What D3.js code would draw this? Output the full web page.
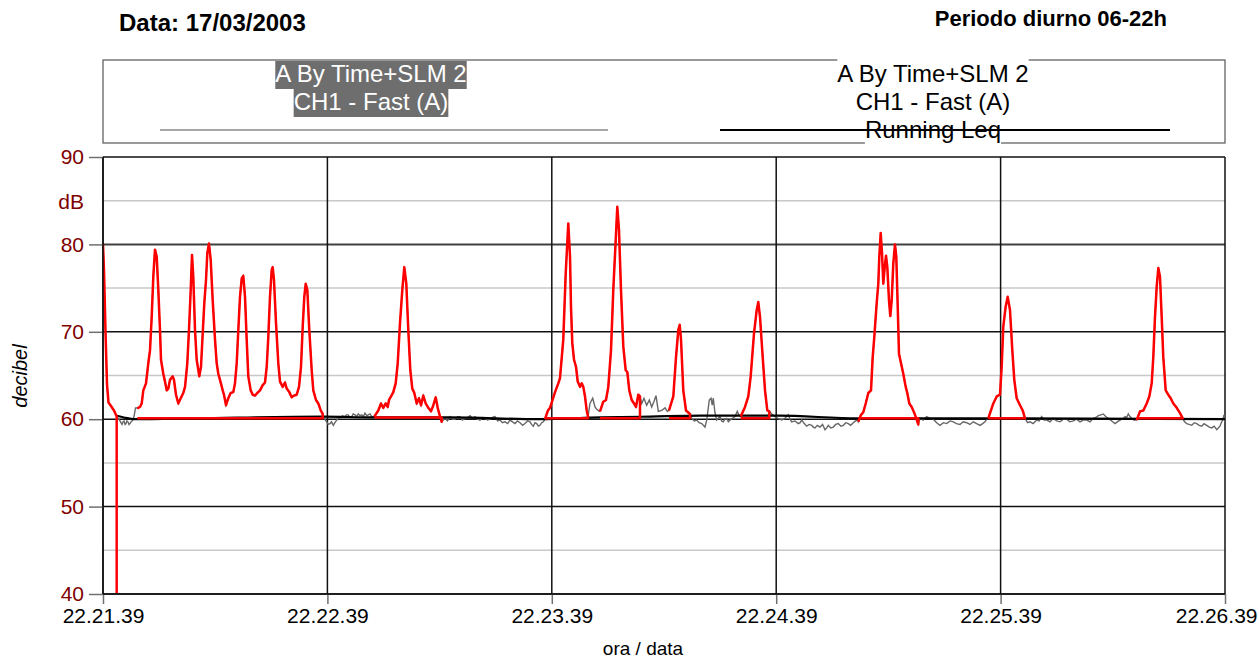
<!DOCTYPE html>
<html><head><meta charset="utf-8">
<script src="https://cdn.jsdelivr.net/npm/d3@7"></script>
<style>
body{margin:0;background:#fff;}
svg{display:block;font-family:"Liberation Sans",Arial,sans-serif;}
</style></head>
<body><svg id="c" width="1259" height="659"></svg>
<script>
// ---- DATA (time in seconds after 22.21.39, level in dB) ----
const timeTicks = [0, 60, 120, 180, 240, 300];
const timeLabels = ["22.21.39","22.22.39","22.23.39","22.24.39","22.25.39","22.26.39"];
const dbMajor = [40, 50, 60, 70, 80, 90];
const dbMinor = [45, 55, 65, 75, 85];

// Fast (A) level between the marked events (grey trace)
const fastBackground = [
 [3.74,60.2],[4.2,60.0],[4.55,59.8],[4.8,59.6],[5.08,59.4],[5.35,59.7],[5.61,59.8],[5.9,59.4],[6.15,59.5],[6.4,59.8],[6.68,59.7],[6.95,59.4],[7.22,59.5],[7.5,59.7],[7.75,59.8],[8.0,60.0],[8.29,60.3],[8.69,61.3],[9.09,61.3],
 [58.82,60.3],[59.3,60.0],[59.81,59.7],[60.2,59.4],[60.7,59.5],[61.1,59.7],[61.58,59.3],[62.0,59.6],[62.49,59.9],[63.0,60.2],[63.37,60.1],[64.0,60.4],[64.71,60.3],[65.1,60.5],[65.59,60.5],[66.0,60.2],[66.5,60.3],[66.9,60.6],[67.38,60.5],[67.8,60.3],[68.26,60.6],[68.7,60.4],[69.17,60.5],[69.6,60.3],[70.05,60.7],[70.5,60.4],[70.94,60.5],[71.4,60.6],[71.84,60.3],
 [90.99,59.9],[91.44,60.1],[92.1,59.8],[92.78,60.3],[93.4,60.0],[94.12,60.0],[94.8,60.3],[95.45,60.3],[96.1,59.9],[96.79,60.1],[97.5,60.2],[98.13,60.4],[98.8,60.1],[99.47,60.3],[100.1,60.0],[100.8,59.9],[101.5,60.2],[102.14,60.1],[102.8,59.9],[103.48,60.0],[104.1,60.2],[104.81,60.3],[105.5,59.8],[106.15,59.9],[106.8,59.6],[107.49,59.7],[108.2,59.5],[108.82,59.9],[109.5,59.7],[110.16,59.5],[110.8,59.8],[111.5,59.6],[112.2,59.3],[112.83,59.5],[113.5,59.8],[114.17,59.7],[114.6,59.4],[115.05,59.2],[115.5,59.6],[115.96,59.5],[116.4,59.2],[116.84,59.3],[117.3,59.6],[117.73,59.7],
 [130.21,61.8],[130.94,62.4],[131.55,61.4],[132.1,61.1],[132.7,60.9],
 [144.04,61.8],[144.65,62.4],[145.37,61.6],[146.07,62.2],[146.71,61.4],[147.3,62.0],[147.86,62.7],[148.48,60.9],[149.39,61.0],[150.27,61.3],[150.88,60.9],
 [157.41,60.1],[158.1,59.8],[158.74,59.9],[159.4,59.6],[160.08,59.5],[160.96,59.1],[161.42,59.9],[162.11,62.2],[162.57,62.4],[162.9,61.6],[163.18,62.4],[163.6,60.8],[164.09,59.9],[164.5,60.1],[164.97,60.3],[165.4,59.8],[165.86,59.7],[166.3,60.0],[166.76,60.1],[167.2,59.7],[167.65,59.9],[168.3,60.1],[168.98,60.3],[169.6,60.9],[170.0,60.5],
 [178.8,60.6],[179.68,60.3],[180.5,60.1],[181.47,59.9],[182.3,60.1],[183.24,60.5],[183.7,60.0],[184.14,59.7],[185.0,59.8],[185.91,59.5],[186.4,59.6],[186.82,59.9],[187.5,59.5],[188.16,59.2],[188.8,59.4],[189.5,59.3],[189.9,59.1],[190.37,59.0],[191.0,59.3],[191.71,59.1],[192.4,59.4],[193.05,58.8],[193.5,59.0],[193.93,59.3],[194.6,59.0],[195.27,59.1],[195.9,59.4],[196.6,59.5],[197.3,59.2],[197.94,59.3],[198.6,59.6],[199.28,59.5],[199.9,59.3],[200.61,59.6],[201.2,59.8],[201.79,59.9],
 [218.45,60.1],[219.3,59.9],[220.24,60.3],[221.1,60.1],[222.01,60.0],[222.9,59.6],[223.8,59.3],[224.7,59.6],[225.59,59.5],[226.5,59.8],[227.35,59.7],[228.2,59.5],[229.14,59.4],[230.0,59.7],[230.94,59.6],[231.8,59.4],[232.7,59.7],[233.6,59.5],[234.49,59.3],[235.2,59.5],[235.83,59.7],[236.3,60.0],
 [247.2,59.6],[247.86,59.7],[248.7,59.5],[249.65,59.9],[250.3,59.8],[250.99,60.3],[251.6,59.9],[252.33,59.9],[253.2,59.7],[254.09,60.1],[255.0,59.8],[255.88,59.7],[256.8,60.0],[257.67,60.0],[258.5,59.7],[259.44,59.8],[260.3,60.0],[261.23,59.7],[262.1,59.9],[263.02,59.9],[263.9,59.7],[264.79,60.1],[265.5,60.2],[266.13,60.4],[266.8,60.5],[267.46,60.6],[268.1,60.3],[268.8,60.1],[269.7,59.8],[270.59,59.5],[271.2,59.7],[271.93,59.9],[272.6,60.0],[273.26,60.3],[273.7,60.2],[274.14,60.6],[274.6,60.3],[275.05,60.1],[275.6,59.9],
 [289.2,59.7],[289.76,59.5],[290.4,59.4],[291.1,59.3],[291.8,59.6],[292.43,59.5],[293.1,59.3],[293.77,59.2],[294.4,59.5],[295.11,59.3],[295.8,59.1],[296.44,59.0],[297.1,59.2],[297.78,58.8],[298.2,59.0],[298.66,59.2],[299.0,59.6],[299.39,59.9],[299.73,60.5],[300.0,59.6]
];

// Marked events (red)
const event1 = [[0,80.0],[0.27,77.0],[0.67,70.0],[1.07,64.0],[1.47,61.9],[2.14,61.5],[2.94,61.0],[3.66,60.3]];
const event2 = [[9.17,61.25],[9.89,61.4],[10.35,61.8],[10.78,63.3],[11.5,64.1],[12.11,66.4],[12.57,67.9],[13.02,71.7],[13.45,76.3],[13.9,79.4],[14.36,78.6],[14.79,74.8],[15.24,70.2],[15.51,66.8],[16.12,65.2],[16.58,64.3],[17.03,63.3],[17.46,63.5],[17.91,64.5],[18.64,64.9],[18.98,64.5],[19.52,62.8],[20.13,61.8],[20.78,62.4],[21.47,63.0],[21.93,63.7],[22.54,66.4],[22.99,70.2],[23.45,74.8],[23.8,78.8],[24.14,76.3],[24.6,70.2],[25.05,66.8],[25.75,64.9],[26.2,66.0],[26.66,69.8],[27.09,73.3],[27.54,75.9],[27.89,79.0],[28.34,80.1],[28.8,78.2],[29.33,73.6],[29.95,69.1],[30.4,66.4],[30.83,65.2],[31.28,64.5],[32.01,63.3],[32.35,62.8],[32.89,61.6],[33.5,62.4],[34.14,63.0],[34.84,63.1],[35.29,64.1],[35.75,66.4],[36.18,70.2],[36.63,74.0],[37.09,76.1],[37.51,76.4],[37.97,74.0],[38.42,69.1],[38.85,64.9],[39.49,63.3],[40.03,62.8],[40.64,62.7],[41.26,63.0],[41.98,63.3],[42.7,63.9],[43.32,64.2],[43.77,66.0],[44.2,69.4],[44.65,74.0],[45.11,77.1],[45.37,77.4],[45.72,75.9],[46.26,71.0],[46.87,66.4],[47.33,64.3],[48.05,63.7],[48.66,64.2],[49.12,63.5],[49.81,63.1],[50.45,62.5],[51.07,62.7],[51.79,62.8],[52.41,63.7],[52.94,66.0],[53.4,70.6],[53.82,74.0],[54.2,75.5],[54.63,74.8],[55.16,70.2],[55.8,65.6],[56.23,63.3],[56.95,62.2],[57.57,61.8],[58.21,61.0],[58.74,60.6]];
const event3 = [[72.54,60.3],[73.61,61.0],[74.33,61.8],[74.95,61.3],[75.59,61.8],[76.12,61.4],[76.47,62.2],[77.01,62.6],[77.62,63.1],[78.26,64.1],[78.8,66.4],[79.41,71.0],[80.03,74.8],[80.56,77.4],[81.1,75.5],[81.63,70.2],[82.17,65.6],[82.7,63.5],[83.24,63.0],[83.88,61.8],[84.49,62.4],[85.03,61.6],[85.64,62.7],[86.28,61.8],[86.98,61.3],[87.7,60.9],[88.32,61.6],[88.96,62.5],[89.49,61.3],[90.11,60.3],[90.56,59.7]];
const event4 = [[118.18,60.0],[118.98,61.0],[119.52,61.3],[120.86,63.1],[121.74,64.1],[122.19,64.7],[123.07,69.1],[123.72,76.7],[124.41,82.4],[124.87,78.6],[125.13,72.9],[125.48,68.7],[125.94,66.8],[126.47,66.0],[126.93,64.3],[127.54,63.7],[128.0,64.1],[128.42,63.7],[128.88,62.6],[129.33,61.0],[129.68,60.3]];
const event5 = [[132.89,60.9],[133.77,62.0],[134.49,62.2],[135.11,63.7],[135.83,67.9],[136.44,74.8],[137.09,80.5],[137.51,84.3],[137.97,81.6],[138.5,74.8],[139.12,68.3],[139.76,65.6],[140.19,65.4],[140.72,63.3],[141.36,62.2],[141.98,61.8],[142.51,61.4],[143.13,62.8],[143.58,62.6]];
const event6 = [[151.34,61.0],[152.49,62.6],[153.21,67.1],[153.82,70.2],[154.2,70.8],[154.55,69.1],[155.16,63.3],[155.88,61.0],[156.95,60.6]];
const event7 = [[170.51,60.3],[171.66,61.4],[172.54,62.6],[173.18,64.9],[174.06,69.8],[174.79,72.5],[175.21,73.4],[175.67,71.7],[176.39,67.1],[177.01,63.3],[177.62,61.0],[178.16,60.9]];
const event8 = [[201.95,59.7],[202.67,60.5],[203.29,60.8],[203.93,61.8],[204.63,63.0],[205.35,63.3],[205.8,67.1],[206.23,69.4],[206.87,73.3],[207.3,75.5],[207.57,78.6],[207.94,81.3],[208.29,79.0],[208.64,75.5],[209.01,77.4],[209.36,78.7],[209.71,77.4],[210.16,73.6],[210.51,71.8],[210.88,73.6],[211.31,77.8],[211.76,80.0],[212.11,78.6],[212.49,72.9],[212.83,67.5],[213.37,66.4],[213.98,65.2],[214.63,63.7],[215.05,63.0],[215.59,61.8],[216.23,61.4],[216.93,60.7],[217.46,60.1],[217.99,59.4]];
const event9 = [[236.71,60.1],[238.05,61.8],[238.96,62.6],[239.84,62.8],[240.29,66.0],[240.72,70.6],[241.36,72.9],[241.9,74.0],[242.51,72.5],[243.13,67.9],[243.66,64.5],[244.3,62.4],[245.19,61.6],[245.91,61.0],[246.52,60.1]];
const event10 = [[276.39,59.9],[277.27,60.9],[278.16,61.0],[279.06,61.8],[279.76,62.6],[280.4,64.1],[280.83,67.1],[281.28,71.7],[281.74,75.2],[282.17,77.3],[282.62,76.3],[283.07,71.7],[283.5,67.1],[284.14,63.3],[284.83,62.8],[285.48,62.4],[286.18,61.8],[287.09,61.3],[287.97,60.7],[288.69,60.1]];
const eventBase = [39, 60.1, 60.2, 60.1, 60.1, 60.1, 60.1, 60.1, 60.1, 60.1];

// Running Leq (black)
const runningLeq = [[3.7,60.4],[5.6,60.2],[8.6,60.0],[25,60.1],[58.8,60.3],[72.5,60.2],[92.8,60.2],[116.8,60.0],[132.9,60.2],[146.3,60.3],[159.7,60.4],[180.5,60.4],[201.9,60.1],[240,60.1],[300,60.0]];

// ---- DRAW ----
const svg = d3.select("#c");
const L = 103, R = 1225, T = 157, B = 594;
const x = d3.scaleLinear().domain([0, 300]).range([L, R]);
const y = d3.scaleLinear().domain([40, 90]).range([B, T]);
const font = '"Liberation Sans",Arial,sans-serif';

// titles
svg.append("text").attr("x", 119).attr("y", 31).attr("font-size", 24).attr("font-weight", "bold").text("Data: 17/03/2003");
svg.append("text").attr("x", 1167).attr("y", 26).attr("text-anchor", "end").attr("font-size", 22).attr("font-weight", "bold").text("Periodo diurno 06-22h");

// grid
const g = svg.append("g");
g.selectAll("line.minor").data(dbMinor).join("line")
  .attr("x1", L).attr("x2", R).attr("y1", d => y(d)).attr("y2", d => y(d))
  .attr("stroke", "#c8c8c8").attr("stroke-width", 1.5);
g.selectAll("line.major").data(dbMajor).join("line")
  .attr("x1", L).attr("x2", R).attr("y1", d => y(d)).attr("y2", d => y(d))
  .attr("stroke", d => d === 80 ? "#404040" : "#111").attr("stroke-width", d => d === 80 ? 2 : 1.5);
g.selectAll("line.vert").data(timeTicks).join("line")
  .attr("x1", d => x(d)).attr("x2", d => x(d)).attr("y1", T).attr("y2", B)
  .attr("stroke", "#111").attr("stroke-width", 1.5);

// axes with D3 (ticks + labels)
const yAxis = d3.axisLeft(y).tickValues(dbMajor).tickSize(14).tickPadding(5);
const ya = svg.append("g").attr("transform", `translate(${L},0)`).call(yAxis);
ya.select(".domain").remove();
ya.selectAll(".tick line").attr("stroke", "#707070").attr("stroke-width", 1.5);
ya.selectAll(".tick text").attr("font-size", 21).attr("font-family", font).attr("fill", "#800000");

const xAxis = d3.axisBottom(x).tickValues(timeTicks).tickFormat((d, i) => timeLabels[i]).tickSize(10).tickPadding(4);
const xa = svg.append("g").attr("transform", `translate(0,${B})`).call(xAxis);
xa.select(".domain").remove();
xa.selectAll(".tick line").attr("stroke", "#707070").attr("stroke-width", 1.5);
xa.selectAll(".tick text").attr("font-size", 21).attr("font-family", font).attr("fill", "#000");
// keep the last label inside the picture, as in the reference
xa.selectAll(".tick text").filter((d, i) => i === timeTicks.length - 1)
  .attr("text-anchor", "end").attr("x", 1257 - x(300));

svg.append("text").attr("x", 84).attr("y", 209).attr("text-anchor", "end").attr("font-size", 21).attr("fill", "#800000").text("dB");
svg.append("text").attr("transform", "translate(27,376) rotate(-90)").attr("text-anchor", "middle")
  .attr("font-size", 20).attr("font-style", "italic").text("decibel");
svg.append("text").attr("x", 643).attr("y", 655).attr("text-anchor", "middle").attr("font-size", 19).text("ora / data");

// clip
svg.append("clipPath").attr("id", "clip").append("rect").attr("x", L).attr("y", T).attr("width", R - L).attr("height", B - T - 1);
const plot = svg.append("g").attr("clip-path", "url(#clip)");

const events = [event1, event2, event3, event4, event5, event6, event7, event8, event9, event10];
const fastAll = fastBackground.concat(...events).sort((a, b) => a[0] - b[0]);
const line = d3.line().x(d => x(d[0])).y(d => y(d[1]));

plot.append("path").attr("d", line(fastAll)).attr("fill", "none").attr("stroke", "#666").attr("stroke-width", 1.4);
plot.append("path").attr("d", d3.line().x(d => x(d[0])).y(d => y(d[1])).curve(d3.curveMonotoneX)(runningLeq))
  .attr("fill", "none").attr("stroke", "#000").attr("stroke-width", 2.2);
events.forEach((ev, i) => {
  const base = eventBase[i];
  const pts = ev.concat([[ev[ev.length - 1][0], base], [ev[0][0], base]]);
  plot.append("path").attr("d", line(pts)).attr("fill", "none").attr("stroke", "#ff0000")
    .attr("stroke-width", 2.5).attr("stroke-linejoin", "round");
});

// frame lines on top
svg.append("line").attr("x1", L).attr("x2", L).attr("y1", T).attr("y2", B).attr("stroke", "#111").attr("stroke-width", 1.5);
svg.append("line").attr("x1", L).attr("x2", R).attr("y1", B).attr("y2", B).attr("stroke", "#111").attr("stroke-width", 1.5);

// legend
const lg = svg.append("g").attr("font-size", 24);
lg.append("rect").attr("x", L).attr("y", 60).attr("width", R - L).attr("height", 83)
  .attr("fill", "#fff").attr("stroke", "#555").attr("stroke-width", 1.2);
const leftLines = ["A By Time+SLM 2", "CH1 - Fast (A)"];
const rightLines = ["A By Time+SLM 2", "CH1 - Fast (A)", "Running Leq"];
const baselines = [82, 110, 138];
leftLines.forEach((t, i) => {
  const tx = lg.append("text").attr("x", 371).attr("y", baselines[i]).attr("text-anchor", "middle").attr("fill", "#fff").text(t);
  const bb = tx.node().getBBox();
  lg.insert("rect", () => tx.node()).attr("x", bb.x).attr("y", baselines[i] - 21).attr("width", bb.width).attr("height", 28).attr("fill", "#6e6e6e");
});
lg.append("line").attr("x1", 160).attr("x2", 608).attr("y1", 130).attr("y2", 130).attr("stroke", "#8a8a8a").attr("stroke-width", 1.5);
rightLines.forEach((t, i) => {
  const tx = lg.append("text").attr("x", 933).attr("y", baselines[i]).attr("text-anchor", "middle").attr("fill", "#000").text(t);
  const bb = tx.node().getBBox();
  lg.insert("rect", () => tx.node()).attr("x", bb.x).attr("y", baselines[i] - 23).attr("width", bb.width).attr("height", i === 2 ? 30 : 28).attr("fill", "#fff");
});
lg.append("line").attr("x1", 720).attr("x2", 1170).attr("y1", 130).attr("y2", 130).attr("stroke", "#000").attr("stroke-width", 2);
</script></body></html>
